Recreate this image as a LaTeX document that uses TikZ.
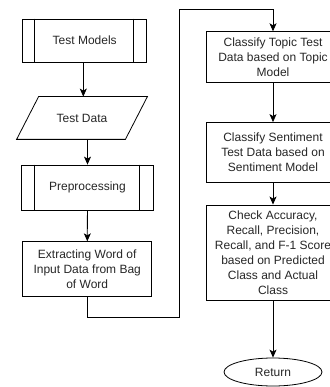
\documentclass[tikz,border=0pt]{standalone}
\usepackage{fontspec}
\setmainfont{Liberation Sans}
\usetikzlibrary{arrows.meta,shapes.geometric}
\tikzset{
  flow/.style={draw, line width=0.8pt, align=center, inner sep=0pt, text=black!85,
    font=\fontsize{12}{15}\selectfont},
  proc/.style={flow, rectangle},
  sub/.style={flow, rectangle},
  io/.style={flow, draw=none, rectangle},
  term/.style={flow, ellipse},
  link/.style={line width=0.8pt, -{Stealth[length=8pt,width=7pt,inset=2pt]}}
}
\begin{document}
\begin{tikzpicture}[x=1pt,y=-1pt]
  \useasboundingbox (0,0) rectangle (329,387);
  \node[sub, minimum width=124pt, minimum height=43pt] (tm) at (84.7,40.5) {Test Models};
  \node[io, minimum width=108pt, minimum height=42pt] (td) at (82,118) {Test Data};
  \node[sub, minimum width=131.6pt, minimum height=45pt] (pp) at (87.5,187.5) {Preprocessing};
  \node[proc, minimum width=129pt, minimum height=55pt] (ex) at (87.2,269.2) {Extracting Word of\\Input Data from Bag\\of Word};
  \node[proc, minimum width=134pt, minimum height=51pt] (ct) at (273,57.2) {Classify Topic Test\\Data based on Topic\\Model};
  \node[proc, minimum width=134pt, minimum height=60pt] (cs) at (273,152.5) {Classify Sentiment\\Test Data based on\\Sentiment Model};
  \node[proc, minimum width=134pt, minimum height=95.7pt] (ca) at (273,252.8) {Check Accuracy,\\Recall, Precision,\\Recall, and F-1 Score\\based on Predicted\\Class and Actual\\Class};
  \node[term, minimum width=98pt, minimum height=28pt] (ret) at (273,372) {Return};
  \coordinate (c1) at (179,317.5);
  \coordinate (c2) at (179,9.3);
  % data parallelogram
  \draw[line width=0.8pt] ([xshift=11pt]td.north west) -- ([xshift=11pt]td.north east)
    -- ([xshift=-11pt]td.south east) -- ([xshift=-11pt]td.south west) -- cycle;
  % subroutine side bars
  \draw[line width=0.8pt] ([xshift=12.3pt]tm.north west) -- ([xshift=12.3pt]tm.south west);
  \draw[line width=0.8pt] ([xshift=-13.7pt]tm.north east) -- ([xshift=-13.7pt]tm.south east);
  \draw[line width=0.8pt] ([xshift=13.3pt]pp.north west) -- ([xshift=13.3pt]pp.south west);
  \draw[line width=0.8pt] ([xshift=-14.3pt]pp.north east) -- ([xshift=-14.3pt]pp.south east);
  \draw[link] (tm.south -| 83.3,0) -- (td.north -| 83.3,0);
  \draw[link] (td.south -| pp.north) -- (pp.north);
  \draw[link] (pp) -- (ex);
  \draw[link] (ex.south) |- (c1) -- (c2) -| (ct.north);
  \draw[link] (ct) -- (cs);
  \draw[link] (cs) -- (ca);
  \draw[link] (ca) -- (ret);
\end{tikzpicture}
\end{document}
